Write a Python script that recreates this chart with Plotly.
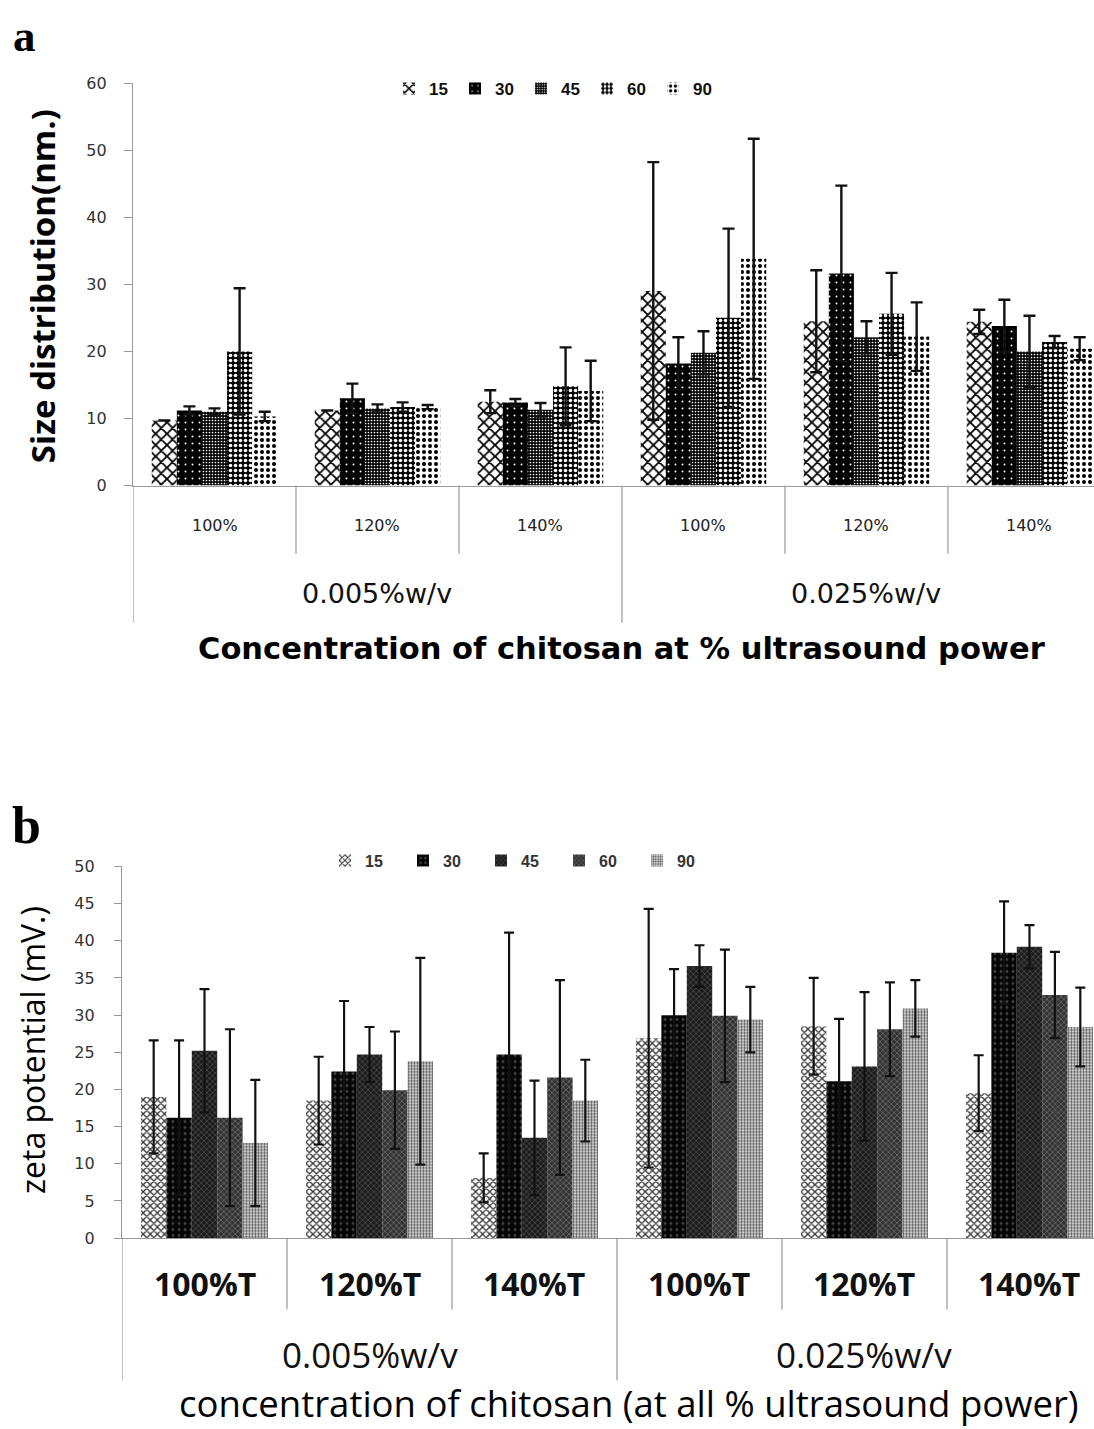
import plotly.graph_objects as go

# ---------------------------------------------------------------- data
SERIES = ["15", "30", "45", "60", "90"]
CONC = ["0.005%w/v", "0.025%w/v"]
POWER_A = ["100%", "120%", "140%"]
POWER_B = ["100%T", "120%T", "140%T"]

# (a) size distribution (nm.), six conditions per series
size_15 = [9.7, 11.2, 12.5, 29.0, 24.5, 24.4]
size_30 = [11.2, 13.0, 12.4, 18.2, 31.6, 23.8]
size_45 = [11.0, 11.5, 11.3, 19.8, 22.1, 20.0]
size_60 = [20.0, 11.7, 14.8, 25.0, 25.6, 21.4]
size_90 = [10.3, 11.7, 14.1, 33.8, 22.2, 20.4]
size_err_15 = [0.0, 0.0, 1.7, 19.2, 7.6, 1.8]
size_err_30 = [0.6, 2.2, 0.5, 3.9, 13.1, 3.9]
size_err_45 = [0.5, 0.6, 1.0, 3.2, 2.4, 5.3]
size_err_60 = [9.4, 0.7, 5.8, 13.3, 6.1, 0.9]
size_err_90 = [0.7, 0.3, 4.5, 17.9, 5.1, 1.7]

# (b) zeta potential (mV.)
zeta_15 = [19.0, 18.5, 8.1, 26.9, 28.5, 19.5]
zeta_30 = [16.2, 22.4, 24.7, 30.0, 21.1, 38.4]
zeta_45 = [25.2, 24.7, 13.5, 36.6, 23.1, 39.2]
zeta_60 = [16.2, 19.9, 21.6, 29.9, 28.1, 32.7]
zeta_90 = [12.8, 23.8, 18.5, 29.4, 30.9, 28.4]
zeta_err_15 = [7.6, 5.9, 3.3, 17.4, 6.5, 5.1]
zeta_err_30 = [10.4, 9.5, 16.4, 6.2, 8.4, 6.9]
zeta_err_45 = [8.3, 3.7, 7.7, 2.8, 10.0, 2.9]
zeta_err_60 = [11.9, 7.9, 13.1, 8.9, 6.3, 5.8]
zeta_err_90 = [8.5, 13.9, 5.5, 4.4, 3.8, 5.3]

# ---------------------------------------------------------------- layout helpers
W, H = 1094, 1429


def xp(px):
    return px / W


def yp(py):
    return 1 - py / H


cats = [c + " " + p for c in CONC for p in POWER_A]

size_vals = [size_15, size_30, size_45, size_60, size_90]
size_errs = [size_err_15, size_err_30, size_err_45, size_err_60, size_err_90]
zeta_vals = [zeta_15, zeta_30, zeta_45, zeta_60, zeta_90]
zeta_errs = [zeta_err_15, zeta_err_30, zeta_err_45, zeta_err_60, zeta_err_90]

# fill patterns, monochrome print style
pat_a = [
    dict(shape="x", fgcolor="#000", bgcolor="#fff", size=8, solidity=0.4),
    dict(shape=".", fgcolor="#fff", bgcolor="#000", size=7, solidity=0.06),
    dict(shape=".", fgcolor="#fff", bgcolor="#000", size=3, solidity=0.25),
    dict(shape=".", fgcolor="#fff", bgcolor="#000", size=5, solidity=0.4),
    dict(shape=".", fgcolor="#000", bgcolor="#fff", size=6, solidity=0.35),
]
pat_b = [
    dict(shape="x", fgcolor="#333", bgcolor="#fff", size=5, solidity=0.45),
    dict(shape=".", fgcolor="#444", bgcolor="#050505", size=6, solidity=0.2),
    dict(shape="x", fgcolor="#555", bgcolor="#1c1c1c", size=4, solidity=0.3),
    dict(shape="x", fgcolor="#777", bgcolor="#333", size=4, solidity=0.3),
    dict(shape=".", fgcolor="#555", bgcolor="#f2f2f2", size=3, solidity=0.5),
]

fig = go.Figure()

for i, name in enumerate(SERIES):
    fig.add_trace(go.Bar(
        x=cats, y=size_vals[i], name=name, xaxis="x", yaxis="y",
        marker=dict(pattern=dict(fillmode="replace", **pat_a[i]), line=dict(width=0)),
        error_y=dict(type="data", array=size_errs[i], visible=True,
                     color="#111", thickness=2.4, width=6),
        legend="legend",
    ))

for i, name in enumerate(SERIES):
    fig.add_trace(go.Bar(
        x=cats, y=zeta_vals[i], name=name, xaxis="x2", yaxis="y2",
        marker=dict(pattern=dict(fillmode="replace", **pat_b[i]), line=dict(width=0)),
        error_y=dict(type="data", array=zeta_errs[i], visible=True,
                     color="#111", thickness=2.2, width=5),
        legend="legend2",
    ))

axis_grey = "#999"
tickfont = dict(family="DejaVu Sans", size=16, color="#333")

fig.update_layout(
    width=W, height=H,
    margin=dict(l=0, r=0, t=0, b=0),
    paper_bgcolor="white", plot_bgcolor="white",
    barmode="group", bargap=0.23, bargroupgap=0,
    xaxis=dict(domain=[xp(133), 1], anchor="y", range=[-0.5, 5.396],
               showticklabels=False, ticks="", showgrid=False, zeroline=False,
               showline=True, linecolor=axis_grey, linewidth=1.2),
    yaxis=dict(domain=[yp(483), yp(75)], anchor="x", range=[0, 60], dtick=10,
               showgrid=False, zeroline=False, showline=True, linecolor=axis_grey,
               linewidth=1.2, ticks="outside", ticklen=8, tickcolor=axis_grey,
               tickfont=tickfont, ticklabelstandoff=14),
    xaxis2=dict(domain=[xp(122), 1], anchor="y2", range=[-0.5, 5.391],
                showticklabels=False, ticks="", showgrid=False, zeroline=False,
                showline=True, linecolor=axis_grey, linewidth=1.2),
    yaxis2=dict(domain=[yp(1245.7), yp(869)], anchor="x2", range=[0, 50], dtick=5,
                showgrid=False, zeroline=False, showline=True, linecolor=axis_grey,
                linewidth=1.2, ticks="outside", ticklen=7, tickcolor=axis_grey,
                tickfont=tickfont, ticklabelstandoff=16),
    legend=dict(orientation="h", x=xp(389), y=yp(81), xanchor="left", yanchor="middle",
                font=dict(family="Liberation Sans", size=17, color="#111", weight="bold"),
                entrywidth=21, entrywidthmode="pixels", bgcolor="rgba(0,0,0,0)"),
    legend2=dict(orientation="h", x=xp(325), y=yp(863), xanchor="left", yanchor="middle",
                 font=dict(family="Liberation Sans", size=16, color="#333", weight="bold"),
                 entrywidth=33, entrywidthmode="pixels", bgcolor="rgba(0,0,0,0)"),
    showlegend=True,
)

shapes = []
# panel (a): category dividers below the axis
for k in [0.5, 1.5, 3.5, 4.5]:
    shapes.append(dict(type="line", xref="x", yref="paper", x0=k, x1=k,
                       y0=yp(483), y1=yp(552), line=dict(color=axis_grey, width=1.2)))
for k in [-0.5, 2.5]:
    shapes.append(dict(type="line", xref="x", yref="paper", x0=k, x1=k,
                       y0=yp(483), y1=yp(622), line=dict(color=axis_grey, width=1.2)))
# panel (b)
for k in [0.5, 1.5, 3.5, 4.5]:
    shapes.append(dict(type="line", xref="x2", yref="paper", x0=k, x1=k,
                       y0=yp(1246), y1=yp(1318), line=dict(color=axis_grey, width=1.2)))
for k in [-0.5, 2.5]:
    shapes.append(dict(type="line", xref="x2", yref="paper", x0=k, x1=k,
                       y0=yp(1246), y1=yp(1390), line=dict(color=axis_grey, width=1.2)))
fig.update_layout(shapes=shapes)

ann = []
# panel letters
ann.append(dict(text="a", x=xp(11), y=1, xref="paper", yref="paper",
                xanchor="left", yanchor="top", showarrow=False,
                font=dict(family="Liberation Serif", size=45, color="#000", weight="bold")))
ann.append(dict(text="b", x=xp(10), y=yp(797), xref="paper", yref="paper",
                xanchor="left", yanchor="top", showarrow=False,
                font=dict(family="Liberation Serif", size=52, color="#000", weight="bold")))

# y-axis titles
ann.append(dict(text="Size distribution(nm.)", x=xp(42), y=yp(281), xref="paper", yref="paper",
                textangle=-90, showarrow=False, xanchor="center", yanchor="middle",
                font=dict(family="Open Sans", size=33, color="#000", weight="bold")))
ann.append(dict(text="zeta potential (mV.)", x=xp(33), y=yp(1055), xref="paper", yref="paper",
                textangle=-90, showarrow=False, xanchor="center", yanchor="middle",
                font=dict(family="Open Sans", size=32, color="#000")))

# panel (a) category labels
for i, cat in enumerate(cats):
    ann.append(dict(text=POWER_A[i % 3], x=i, y=yp(523), xref="x", yref="paper",
                    showarrow=False, xanchor="center", yanchor="middle",
                    font=dict(family="DejaVu Sans", size=16, color="#222")))
for j, c in enumerate(CONC):
    ann.append(dict(text=c, x=3 * j + 1, y=yp(592), xref="x", yref="paper",
                    showarrow=False, xanchor="center", yanchor="middle",
                    font=dict(family="DejaVu Sans", size=27, color="#111")))
ann.append(dict(text="Concentration of chitosan at % ultrasound power", x=xp(621), y=yp(648),
                xref="paper", yref="paper", showarrow=False, xanchor="center", yanchor="middle",
                font=dict(family="DejaVu Sans", size=30.5, color="#000", weight="bold")))

# panel (b) category labels
for i, cat in enumerate(cats):
    ann.append(dict(text=POWER_B[i % 3], x=i, y=yp(1292), xref="x2", yref="paper",
                    showarrow=False, xanchor="center", yanchor="middle",
                    font=dict(family="Open Sans", size=32, color="#111", weight="bold")))
for j, c in enumerate(CONC):
    ann.append(dict(text=c, x=3 * j + 1, y=yp(1364), xref="x2", yref="paper",
                    showarrow=False, xanchor="center", yanchor="middle",
                    font=dict(family="Open Sans", size=35, color="#111")))
ann.append(dict(text="concentration of chitosan (at all % ultrasound power)", x=xp(629), y=yp(1413),
                xref="paper", yref="paper", showarrow=False, xanchor="center", yanchor="middle",
                font=dict(family="Open Sans", size=36.5, color="#000")))

fig.update_layout(annotations=ann)

fig.write_html("out.html")
